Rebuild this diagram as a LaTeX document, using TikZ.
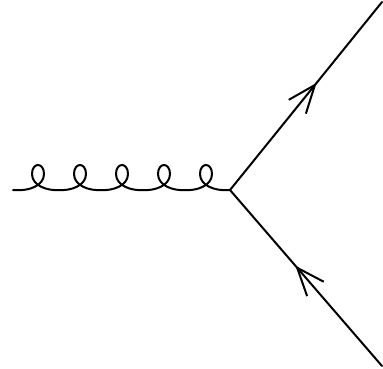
\documentclass[tikz,border=0pt]{standalone}
\usetikzlibrary{arrows.meta,decorations.markings}
\tikzset{
  line/.style={line width=2pt, line cap=round, line join=round},
  fermion/.style={line, postaction={decorate}, decoration={markings,
    mark=at position #1 with {\arrow[line width=2pt]{Straight Barb[length=28pt,width=22pt]}}}},
}
\begin{document}
\begin{tikzpicture}[x=1pt,y=-1pt]
\useasboundingbox (0,0) rectangle (383,368);
\coordinate (g) at (13,190);
\coordinate (v) at (230,190);
\coordinate (a) at (382,2);
\coordinate (b) at (382,366);
% gluon
\draw[line] (g) -- (17,190)
  \foreach \cx in {38,80,122,164,206} {
    .. controls (\cx-10,191) and (\cx+6,186) .. (\cx+6,174)
    .. controls (\cx+6,162) and (\cx-6,162) .. (\cx-6,174)
    .. controls (\cx-6,186) and (\cx+10,191) .. (\cx+21,190)
  } -- (v);
% fermions
\draw[fermion=0.57] (v) -- (a);
\draw[fermion=0.57] (b) -- (v);
\end{tikzpicture}
\end{document}
